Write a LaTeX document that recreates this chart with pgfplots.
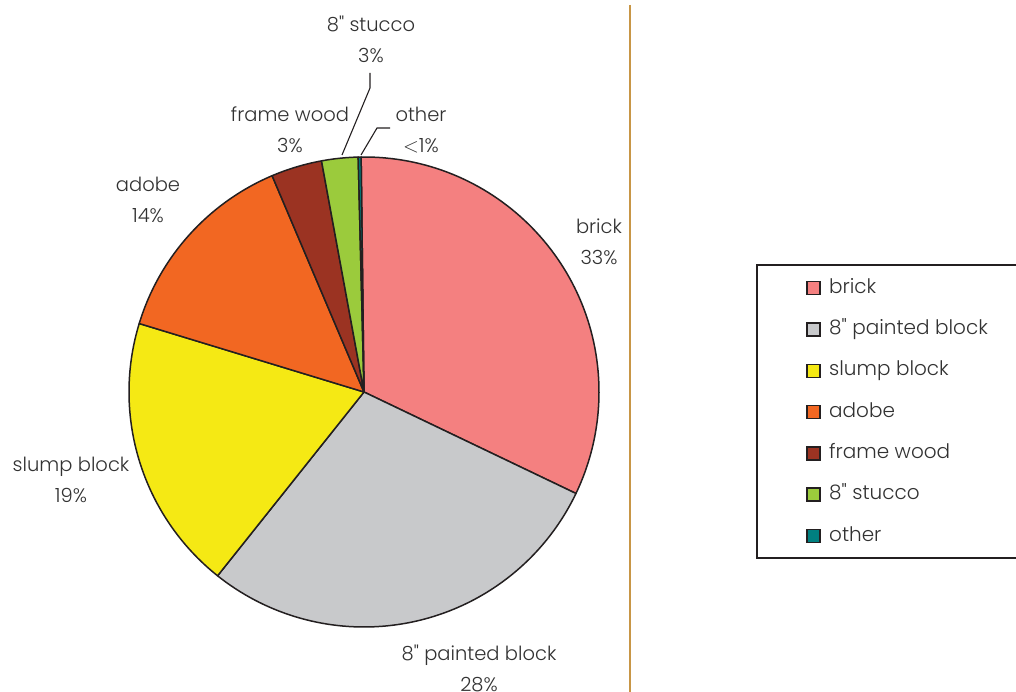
\documentclass[border=0pt]{standalone}
\usepackage{pgfplots}
\pgfplotsset{compat=1.18}
\usepackage{pgfplotstable}
\usepackage{fontspec}
\setmainfont{Poppins}[UprightFont=* Light, Ligatures=TeXOff]
\definecolor{cbrick}{RGB}{244,128,128}
\definecolor{cpaint}{RGB}{200,201,203}
\definecolor{cslump}{RGB}{245,233,20}
\definecolor{cadobe}{RGB}{242,103,34}
\definecolor{cframe}{RGB}{155,51,34}
\definecolor{cstucco}{RGB}{155,203,60}
\definecolor{cother}{RGB}{0,128,128}
\definecolor{sepc}{RGB}{200,150,70}
\definecolor{txt}{RGB}{50,50,50}
\definecolor{edge}{RGB}{35,31,32}

\pgfplotstableread{
value color
32.3 cbrick
28.6 cpaint
19.0 cslump
13.9 cadobe
3.5 cframe
2.5 cstucco
0.2 cother
}\piedata

\begin{document}
\begin{tikzpicture}[font=\fontsize{19.5}{31}\selectfont, text=txt]
\begin{axis}[
  scale only axis, width=1016pt, height=691pt,
  xmin=0, xmax=1016, ymin=0, ymax=691,
  hide axis, clip=false,
  legend style={draw=none, fill=none, at={(axis cs:803,414)}, anchor=north west,
    font=\fontsize{20}{24}\selectfont, text=txt,
    nodes={text height=14pt, text depth=4pt, inner ysep=0pt, inner xsep=3pt},
    row sep=23.3pt},
  legend cell align=left,
  legend image code/.code={\filldraw[#1, draw=edge, line width=1.5pt] (0pt,-6.5pt) rectangle (13pt,6.5pt); \path (19pt,0pt);},
]
\addlegendimage{fill=cbrick}\addlegendentry{brick}
\addlegendimage{fill=cpaint}\addlegendentry{8" painted block}
\addlegendimage{fill=cslump}\addlegendentry{slump block}
\addlegendimage{fill=cadobe}\addlegendentry{adobe}
\addlegendimage{fill=cframe}\addlegendentry{frame wood}
\addlegendimage{fill=cstucco}\addlegendentry{8" stucco}
\addlegendimage{fill=cother}\addlegendentry{other}

\pgfplotsextra{
  \gdef\cum{90.7}
  \foreach \i in {0,...,6}{
    \pgfplotstablegetelem{\i}{value}\of\piedata \let\v\pgfplotsretval
    \pgfplotstablegetelem{\i}{color}\of\piedata \let\c\pgfplotsretval
    \pgfmathsetmacro\newcum{\cum-3.6*\v}
    \filldraw[fill=\c, draw=edge, line width=1.5pt, line join=round]
      (axis cs:364,299) -- ++(\cum:235pt) arc[start angle=\cum, end angle=\newcum, radius=235pt] -- cycle;
    \global\let\cum\newcum
  }
  % leader lines
  \draw[edge, line width=1.1pt] (axis cs:370,618) -- (axis cs:370,603) -- (axis cs:342,536);
  \draw[edge, line width=1.1pt] (axis cs:390,563) -- (axis cs:377,563) -- (axis cs:361,536);
  % separator
  \draw[sepc, line width=1.5pt] (axis cs:630,686) -- (axis cs:630,-5);
  % legend frame
  \draw[edge, line width=2pt] (axis cs:757,426) rectangle (axis cs:1040,133);
}
\node[align=center] at (axis cs:371,652) {8" stucco\\3\%};
\node[align=center] at (axis cs:290,561) {frame wood\\3\%};
\node[align=center] at (axis cs:421,561) {other\\$<$1\%};
\node[align=center] at (axis cs:148,491) {adobe\\14\%};
\node[align=center] at (axis cs:599,449) {brick\\33\%};
\node[align=center] at (axis cs:71,211) {slump block\\19\%};
\node[align=center] at (axis cs:479,23) {8" painted block\\28\%};
\end{axis}
\pgfresetboundingbox
\path (0,0) rectangle (1016pt,691pt);
\end{tikzpicture}
\end{document}
